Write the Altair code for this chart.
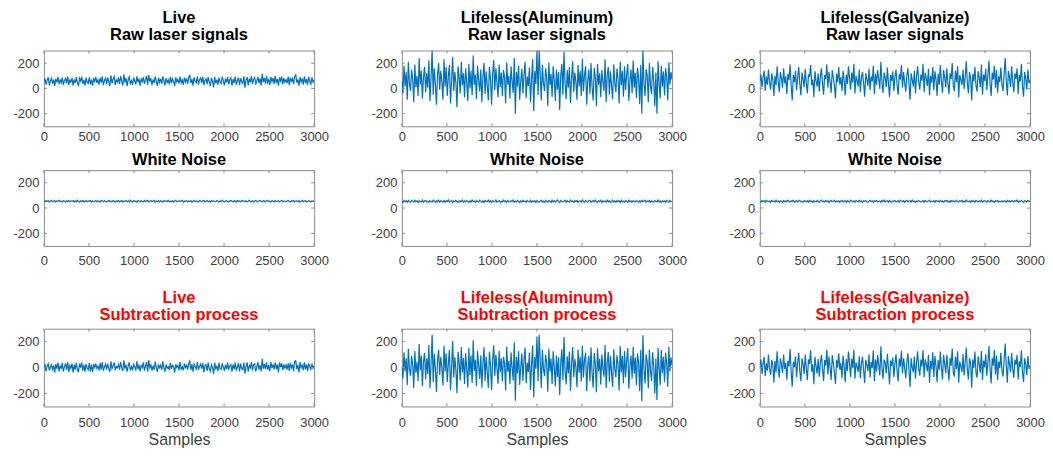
import altair as alt
import pandas as pd

# ---------------- data ----------------
samples = list(range(0, 3001, 12))
x_ticks = [0, 500, 1000, 1500, 2000, 2500, 3000]
y_ticks = [-200, 0, 200]

live_raw = [
    52, 78, 30, 64, 88, 25, 60, 82, 38, 70, 20, 75, 48, 92, 33, 67, 45, 85, 28, 62, 79, 40, 95, 27, 66,
    50, 84, 22, 71, 42, 90, 47, 18, 80, 58, 93, 36, 68, 24, 86, 49, 39, 87, 31, 72, 21, 77, 55, 91, 43,
    69, 29, 83, 46, 96, 26, 63, 81, 35, 88, 52, 19, 104, 41, 74, 94, 28, 66, 50, 85, 34, 97, 57, 23, 112,
    45, 82, 17, 70, 92, 40, 61, 27, 86, 59, 32, 95, 48, 78, 21, 73, 53, 89, 37, 65, 99, 30, 106, 54, 80,
    26, 72, 44, 93, 56, 20, 84, 47, 76, 35, 96, 60, 23, 81, 46, 68, 31, 91, 42, 77, 55, 18, 87, 51, 71,
    38, 94, 45, 67, 27, 85, 52, 79, 33, 90, 103, 41, 73, 22, 88, 57, 46, 95, 30, 69, 82, 43, 92, 25, 64,
    76, 34, 89, 49, 19, 83, 55, 8, 91, 40, 70, 28, 86, 50, 37, 94, 58, 24, 78, 47, 90, 32, 68, 84, 21,
    74, 44, 93, 29, 62, 87, 26, 80, 53, 39, 96, 5, 67, 89, 24, 77, 48, 98, 35, 71, 86, 30, 60, 92, 42,
    79, 23, 115, 50, 83, 38, 97, 46, 70, 27, 91, 54, 81, 33, 99, 43, 75, 22, 88, 58, 94, 31, 82, 49, 69,
    41, 93, 26, 85, 56, 78, 34, 97, 108, 45, 72, 21, 89, 52, 80, 30, 96, 44, 74, 28, 92, 59, 36, 87, 50,
    68,
]

alu_raw = [
    60, -40, 180, 20, 130, -90, 210, 40, -20, 150, 70, -110, 190, 10, 100, -60, 240, 30, 140, -80, 90, 170, -30, 120, 5,
    220, -100, 80, 300, -50, 160, 35, -130, 110, 200, -10, 140, 50, -90, 230, 15, 170, -60, 95, 185, -120, 60, 250, -20, 130,
    45, -150, 175, 85, -40, 210, 25, 120, -70, 160, 55, -100, 195, 0, 140, -55, 260, 30, 105, -85, 180, 65, -25, 150, -110,
    90, 200, -45, 135, 20, -95, 170, 75, -130, 115, 225, -15, 160, 40, -70, 190, 10, 125, -60, 145, 85, -120, 205, 30, 100,
    -80, 175, 55, -35, 240, -200, 130, 15, 180, -90, 60, 155, -40, 110, 210, -75, 95, 20, 165, -110, 70, 230, -180, 140, 35,
    300, -55, 300, 120, -95, 185, 45, -20, 160, 85, -140, 205, 25, 115, -65, 175, 60, -100, 150, -10, 130, -170, 95, 195, -50,
    290, 40, -85, 145, 5, 170, -115, 80, 215, -30, 125, 55, -90, 185, 15, 140, -60, 235, -25, 105, 175, -130, 65, 150, -45,
    200, 10, -95, 160, 90, -140, 195, 30, 120, -70, 145, 55, -20, 230, -110, 100, 170, -50, 135, 20, -85, 190, 45, -30, 155,
    80, -120, 210, 25, 140, -65, 175, -15, 110, 195, -100, 60, 150, -40, 220, 5, 125, -75, 165, 85, -125, 185, -200, 300, 35,
    -60, 150, 100, -110, 200, 20, -45, 170, 60, -140, 125, -200, 215, 40, -80, 180, 15, 135, -55, 160, 95, -95, 205, 30, 130,
    70,
]

galv_raw = [
    60, 110, 10, 85, 140, -20, 95, 30, 150, 45, -10, 120, 70, -60, 100, 25, 175, 55, -30, 130, 80, 5, 160, 40, 95,
    -45, 115, 65, 190, 20, -95, 105, 50, 140, -15, 85, 170, 35, -55, 125, 75, 10, 155, 45, -40, 110, 90, 185, 25, 70,
    -70, 135, 60, 15, 120, -25, 95, 160, 40, -50, 105, 75, 190, 5, 130, 55, -35, 145, 85, 20, -80, 115, 50, 170, 30,
    90, -20, 140, 65, -55, 110, 35, 175, 80, -10, 125, 45, 195, -40, 100, 60, 15, 150, -30, 85, 130, 40, -65, 120, 70,
    20, 155, -15, 95, 55, 180, -45, 115, 30, 145, 75, -5, 210, 50, -35, 125, 85, 10, 165, 40, -70, 105, 60, 135, -20,
    90, 150, 25, -50, 115, 70, 185, 5, 130, 45, -25, 100, 160, 35, -90, 120, 65, 15, 140, -40, 95, 175, 50, -10, 110,
    60, 195, -30, 125, 80, 20, 155, -55, 100, 45, 170, -15, 135, 70, -60, 115, 30, 185, 55, -35, 145, 90, 10, 160, 40,
    -45, 120, 75, 200, 15, -20, 140, 50, 175, -70, 105, 65, 25, 150, -5, 90, 215, 40, -40, 130, 80, -95, 115, 55, 170,
    20, -25, 135, 85, 10, 190, -50, 110, 60, 155, -15, 100, 220, 35, -60, 125, 70, 180, 5, 145, -35, 95, 50, 165, 30,
    -20, 115, 240, 60, -55, 140, 85, 10, 175, 45, -30, 120, 75, 160, -45, 105, 55, 195, 15, -65, 130, 80, -10, 150, 40,
    70,
]

live_noise = [
    55, 49, 60, 52, 58, 47, 56, 61, 50, 54, 59, 48, 57, 53, 62, 51, 55, 49, 60, 54, 47, 58, 52, 61, 50,
    56, 53, 59, 48, 57, 51, 62, 54, 49, 58, 52, 60, 47, 55, 59, 50, 56, 53, 61, 48, 57, 51, 54, 60, 49,
    58, 52, 47, 61, 55, 50, 59, 53, 48, 57, 62, 51, 56, 49, 60, 54, 47, 58, 52, 61, 50, 55, 59, 48, 56,
    53, 60, 49, 57, 51, 62, 54, 48, 59, 52, 56, 47, 61, 55, 50, 58, 53, 49, 60, 51, 57, 62, 48, 54, 59,
    50, 56, 61, 47, 55, 52, 59, 49, 58, 53, 48, 60, 54, 57, 51, 62, 49, 55, 52, 59, 47, 56, 61, 50, 54,
    58, 51, 57, 62, 48, 55, 53, 60, 49, 56, 52, 59, 47, 54, 61, 50, 57, 53, 48, 60, 55, 51, 58, 62, 49,
    54, 59, 50, 56, 48, 61, 53, 57, 52, 49, 60, 55, 47, 58, 51, 62, 54, 49, 56, 59, 52, 48, 57, 61, 53,
    50, 58, 55, 47, 60, 52, 56, 49, 61, 54, 57, 51, 59, 48, 55, 62, 50, 53, 58, 47, 56, 60, 52, 49, 57,
    61, 53, 48, 59, 55, 50, 57, 62, 51, 54, 49, 58, 56, 47, 60, 53, 52, 59, 48, 55, 61, 50, 57, 54, 49,
    56, 60, 52, 48, 58, 54, 61, 49, 55, 57, 51, 59, 47, 53, 62, 50, 56, 58, 49, 54, 60, 52, 48, 57, 55,
    53,
]

alu_noise = [
    53, 44, 61, 49, 58, 46, 62, 51, 45, 60, 55, 47, 63, 50, 57, 44, 59, 52, 48, 64, 46, 56, 61, 49, 54,
    45, 60, 52, 47, 63, 55, 44, 58, 50, 62, 46, 57, 53, 48, 61, 45, 59, 51, 64, 47, 55, 60, 44, 56, 50,
    62, 48, 54, 45, 59, 51, 63, 46, 57, 49, 61, 53, 44, 58, 47, 64, 50, 56, 45, 60, 52, 48, 62, 55, 46,
    57, 44, 61, 50, 53, 63, 47, 58, 45, 59, 52, 49, 62, 46, 55, 60, 44, 54, 48, 63, 51, 57, 45, 61, 50,
    47, 59, 53, 64, 45, 56, 49, 61, 52, 44, 58, 47, 63, 50, 55, 46, 60, 53, 48, 62, 45, 57, 51, 59, 44,
    60, 50, 46, 57, 63, 48, 55, 44, 61, 52, 47, 59, 54, 45, 62, 49, 58, 46, 56, 64, 51, 44, 60, 53, 48,
    55, 62, 45, 58, 50, 47, 63, 52, 56, 44, 59, 49, 61, 46, 54, 57, 48, 64, 51, 45, 60, 53, 47, 58, 62,
    46, 54, 60, 48, 63, 51, 45, 57, 52, 61, 44, 58, 50, 55, 47, 62, 49, 59, 46, 53, 64, 48, 56, 45, 60,
    51, 58, 44, 62, 49, 56, 47, 60, 53, 45, 63, 50, 57, 46, 59, 52, 48, 61, 55, 44, 58, 47, 62, 51, 56,
    63, 47, 55, 50, 61, 45, 58, 52, 46, 60, 54, 49, 64, 48, 56, 44, 59, 51, 57, 46, 62, 53, 45, 60, 50,
    54,
]

galv_noise = [
    54, 47, 60, 51, 58, 46, 62, 53, 49, 57, 45, 61, 52, 56, 48, 63, 50, 55, 47, 59, 53, 46, 60, 51, 58,
    49, 62, 55, 47, 57, 52, 61, 46, 54, 59, 48, 56, 63, 50, 53, 46, 60, 55, 49, 58, 47, 62, 51, 56, 45,
    59, 52, 48, 61, 54, 46, 57, 63, 50, 55, 47, 60, 52, 58, 45, 56, 61, 49, 53, 62, 47, 55, 50, 59, 46,
    56, 61, 48, 53, 58, 45, 60, 52, 47, 63, 55, 50, 57, 46, 59, 54, 48, 62, 51, 56, 45, 58, 53, 60, 49,
    47, 55, 62, 50, 57, 46, 59, 53, 61, 48, 54, 56, 45, 60, 52, 63, 49, 55, 58, 47, 61, 51, 46, 57, 54,
    60, 48, 53, 57, 46, 62, 55, 50, 58, 45, 56, 61, 49, 54, 59, 47, 63, 52, 55, 46, 57, 50, 60, 53, 48,
    52, 59, 46, 61, 54, 49, 57, 63, 47, 55, 51, 58, 45, 60, 53, 56, 48, 62, 50, 57, 46, 59, 54, 61, 49,
    56, 45, 60, 52, 58, 48, 55, 62, 50, 47, 59, 53, 61, 46, 56, 49, 63, 54, 51, 57, 45, 60, 52, 58, 47,
    61, 53, 48, 57, 50, 62, 46, 55, 59, 52, 47, 60, 54, 49, 63, 51, 56, 45, 58, 53, 61, 48, 55, 50, 57,
    49, 58, 54, 46, 62, 51, 57, 47, 60, 55, 48, 59, 52, 63, 46, 56, 50, 61, 53, 45, 58, 54, 49, 60, 52,
    55,
]

# subtraction process: raw signal minus the white-noise record
live_sub = [r - n for r, n in zip(live_raw, live_noise)]
alu_sub = [r - n for r, n in zip(alu_raw, alu_noise)]
galv_sub = [r - n for r, n in zip(galv_raw, galv_noise)]

# ---------------- style ----------------
BLUE = "#0072BD"
BOX = "#8c8c8c"
LABEL = "#404040"
FONT = "Liberation Sans"
W = 271


def panel(values, title_lines, title_color, title_offset, label_pad, show_xtitle, H=76):
    n = min(len(samples), len(values))
    df = pd.DataFrame({"s": samples[:n], "v": values[:n]})
    xs = alt.Scale(domain=[0, 3000], nice=False, zero=False)
    ys = alt.Scale(domain=[-300, 300], nice=False, zero=False)
    xaxis = dict(values=x_ticks, grid=False, domain=False, ticks=False,
                 labelPadding=label_pad, labelFontSize=13, labelColor=LABEL,
                 labelFont=FONT, labelFlush=False, labelExpr="'' + datum.value")
    if show_xtitle:
        xaxis.update(title="Samples", titleFont=FONT, titleFontSize=16,
                     titleFontWeight="normal", titleColor=LABEL, titlePadding=2)
    else:
        xaxis["title"] = None
    yaxis = dict(values=y_ticks, title=None, grid=False, domain=False,
                 ticks=False, labelPadding=5, labelFontSize=13,
                 labelColor=LABEL, labelFont=FONT, labelExpr="'' + datum.value")
    line = alt.Chart(df).mark_line(color=BLUE, strokeWidth=1.2, clip=True).encode(
        x=alt.X("s:Q", scale=xs, axis=alt.Axis(**xaxis)),
        y=alt.Y("v:Q", scale=ys, axis=alt.Axis(**yaxis)),
    )
    xt = pd.DataFrame({"s": x_ticks})
    yt = pd.DataFrame({"v": y_ticks})
    tick_top = alt.Chart(xt).mark_rule(color=BOX, strokeWidth=1).encode(
        x=alt.X("s:Q", scale=xs, axis=alt.Axis(**xaxis)), y=alt.value(0), y2=alt.value(3))
    tick_bot = alt.Chart(xt).mark_rule(color=BOX, strokeWidth=1).encode(
        x=alt.X("s:Q", scale=xs, axis=alt.Axis(**xaxis)), y=alt.value(H - 3), y2=alt.value(H))
    tick_left = alt.Chart(yt).mark_rule(color=BOX, strokeWidth=1).encode(
        y=alt.Y("v:Q", scale=ys, axis=alt.Axis(**yaxis)), x=alt.value(0), x2=alt.value(3))
    tick_right = alt.Chart(yt).mark_rule(color=BOX, strokeWidth=1).encode(
        y=alt.Y("v:Q", scale=ys, axis=alt.Axis(**yaxis)), x=alt.value(W - 3), x2=alt.value(W))
    return alt.layer(line, tick_top, tick_bot, tick_left, tick_right).properties(
        width=W, height=H,
        title=alt.TitleParams(text=title_lines, color=title_color, font=FONT,
                              fontSize=16.5, fontWeight="bold", offset=title_offset,
                              anchor="middle", lineHeight=17),
    )


HS = 41
row1 = alt.hconcat(
    panel(live_raw, ["Live", "Raw laser signals"], "#000000", 7, 4, False),
    panel(alu_raw, ["Lifeless(Aluminum)", "Raw laser signals"], "#000000", 7, 4, False),
    panel(galv_raw, ["Lifeless(Galvanize)", "Raw laser signals"], "#000000", 7, 4, False),
    spacing=HS,
)
row2 = alt.hconcat(
    panel(live_noise, ["White Noise"], "#000000", 1, 9, False),
    panel(alu_noise, ["White Noise"], "#000000", 1, 9, False),
    panel(galv_noise, ["White Noise"], "#000000", 1, 9, False),
    spacing=HS,
)
row3 = alt.hconcat(
    panel(live_sub, ["Live", "Subtraction process"], "#ff0000", 5, 10, True, 78),
    panel(alu_sub, ["Lifeless(Aluminum)", "Subtraction process"], "#ff0000", 5, 10, True, 78),
    panel(galv_sub, ["Lifeless(Galvanize)", "Subtraction process"], "#ff0000", 5, 10, True, 78),
    spacing=HS,
)

chart = alt.vconcat(
    row1,
    alt.vconcat(row2, row3, spacing=20),
    spacing=7,
).properties(
    padding={"left": 4, "top": 0, "right": 0, "bottom": 0},
    background="white",
).configure_view(stroke=BOX, strokeWidth=1)

chart.save("out.html", embed_options={"renderer": "svg", "actions": False})
